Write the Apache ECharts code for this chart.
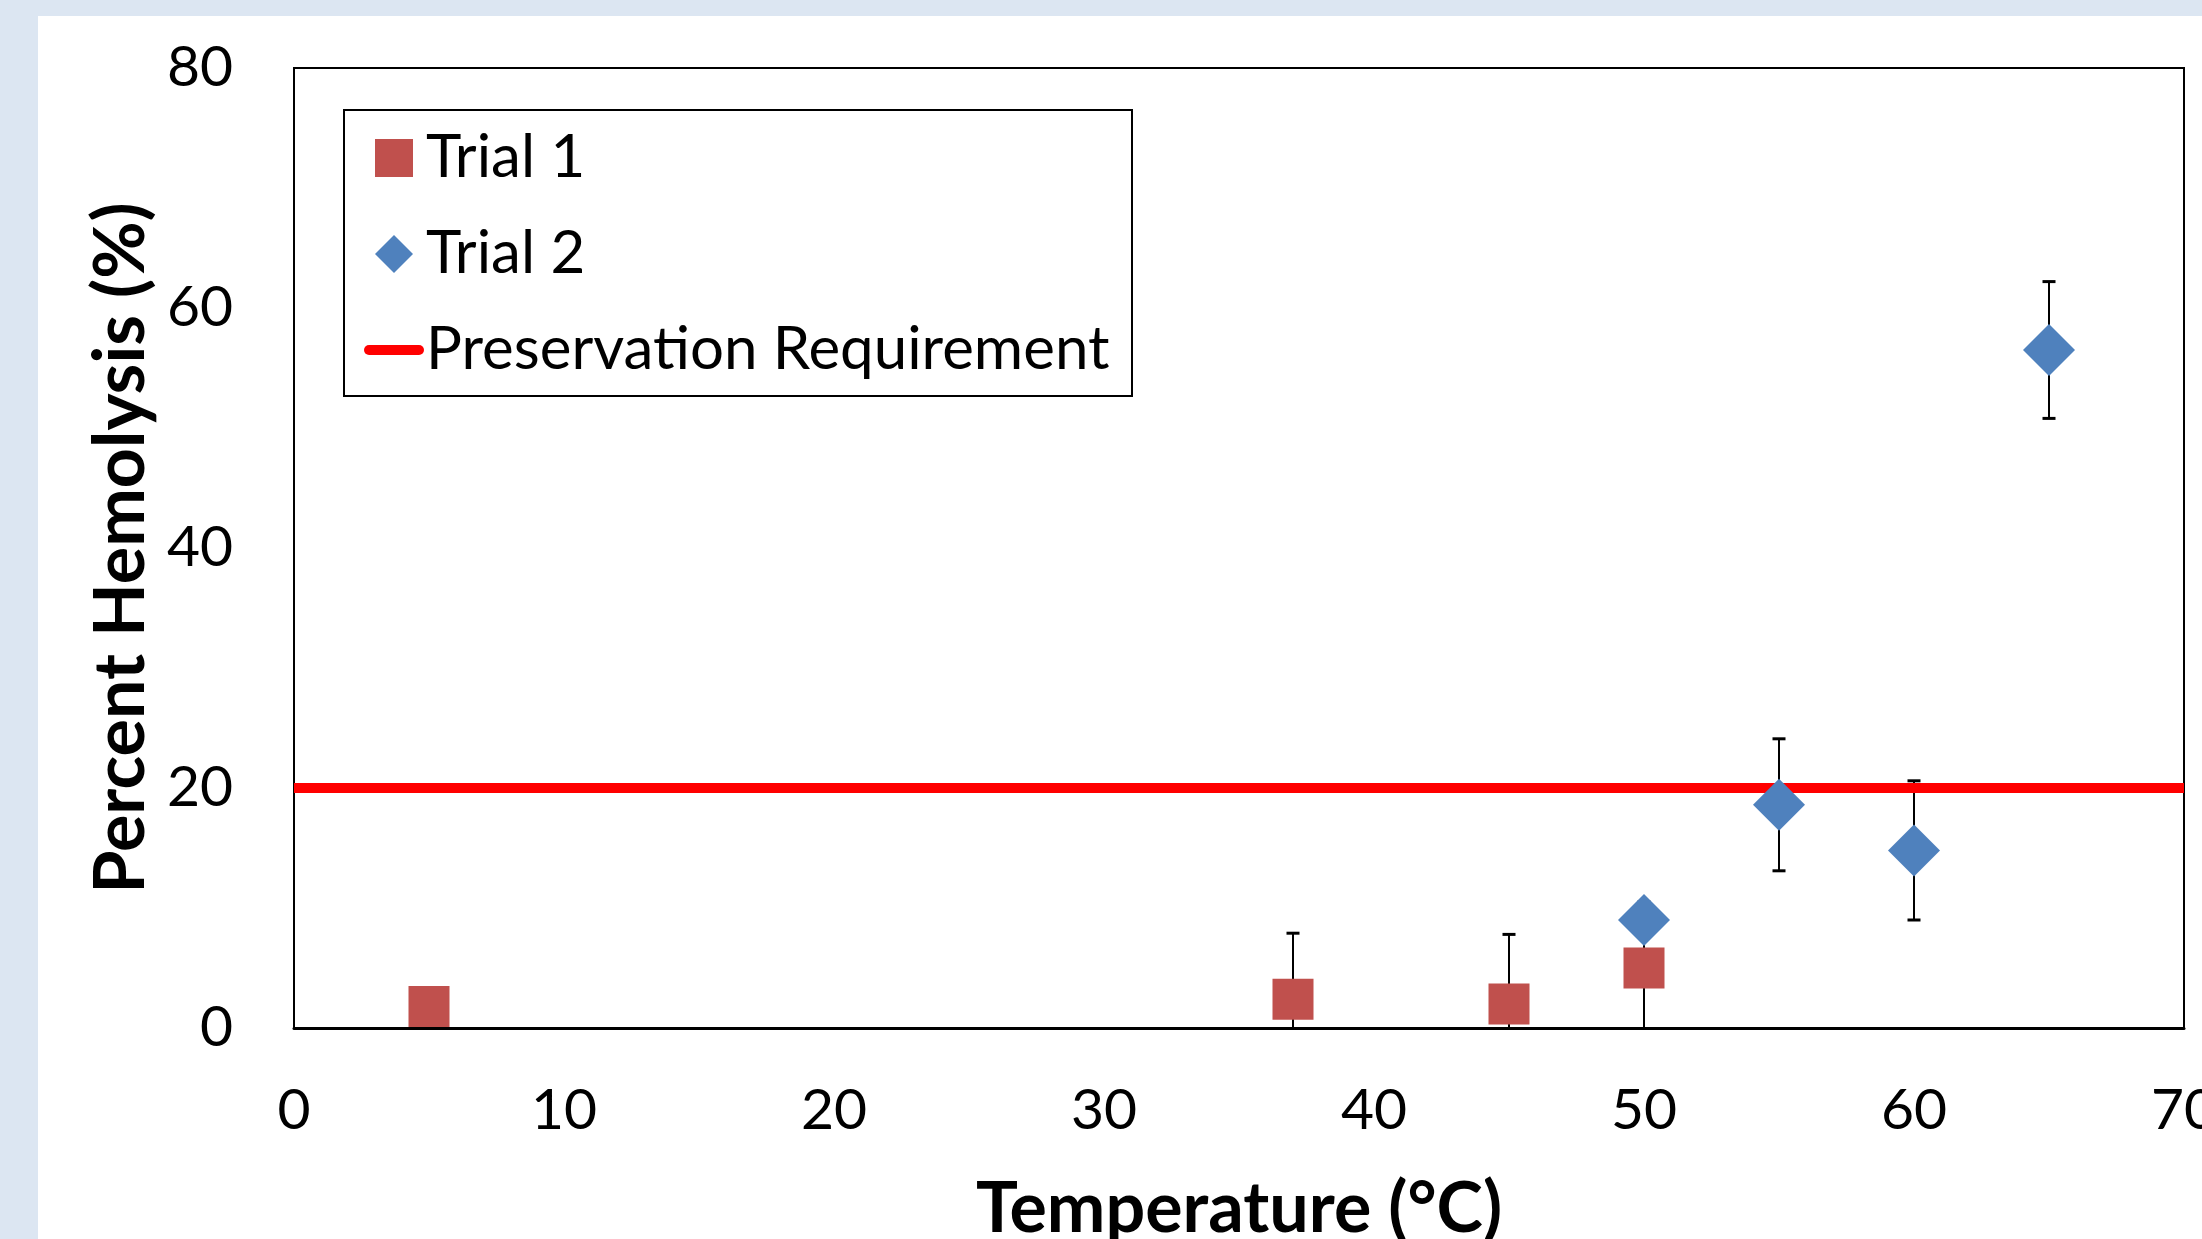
<!DOCTYPE html>
<html>
<head>
<meta charset="utf-8">
<script src="https://cdn.jsdelivr.net/npm/echarts@6/dist/echarts.min.js"></script>
<style>
html,body{margin:0;padding:0;background:#dce6f2;overflow:hidden;}
#chart{position:absolute;left:0;top:0;width:2202px;height:1239px;}
</style>
</head>
<body>
<div id="chart"></div>
<script>
// ---- data ----
const trial1X = [5, 37, 45, 50];
const trial1Y = [1.8, 2.4, 2.0, 5.0];
const trial1Err = [0, 5.5, 5.8, 5.5];

const trial2X = [50, 55, 60, 65];
const trial2Y = [9.0, 18.6, 14.8, 56.5];
const trial2Err = [0, 5.5, 5.8, 5.7];

const requirementX = [0, 70];
const requirementY = [20, 20];

const xTicks = [0, 10, 20, 30, 40, 50, 60, 70];
const yTicks = [0, 20, 40, 60, 80];

const seriesNames = ['Trial 1', 'Trial 2', 'Preservation Requirement'];
const xTitle = 'Temperature (°C)';
const yTitle = 'Percent Hemolysis (%)';

// ---- build ----
const zip = (xs, ys, es) => xs.map((x, i) => es ? [x, ys[i], es[i]] : [x, ys[i]]);

function errRender(params, api) {
  const x = api.value(0), y = api.value(1), e = api.value(2);
  if (!e) return null;
  const top = api.coord([x, y + e]);
  const bot = api.coord([x, y - e]);
  const hw = 6.5;
  return {
    type: 'group',
    children: [
      {type: 'line', shape: {x1: top[0], y1: top[1], x2: bot[0], y2: bot[1]}, style: {stroke: '#000', lineWidth: 2}},
      {type: 'line', shape: {x1: top[0] - hw, y1: top[1], x2: top[0] + hw, y2: top[1]}, style: {stroke: '#000', lineWidth: 3}},
      {type: 'line', shape: {x1: bot[0] - hw, y1: bot[1], x2: bot[0] + hw, y2: bot[1]}, style: {stroke: '#000', lineWidth: 3}}
    ]
  };
}

const regFont = 'Lato, "Liberation Sans", sans-serif';
const boldFont = 'Lato, "Liberation Sans", sans-serif';

const iconSquare = 'path://M0,0H10V10H0Z';
const iconDiamond = 'path://M5,0L10,5L5,10L0,5Z';
const iconLine = 'path://M5,0H55A5,5 0 0 1 55,10H5A5,5 0 0 1 5,0Z';

const chart = echarts.init(document.getElementById('chart'), null, {renderer: 'canvas'});
chart.setOption({
  animation: false,
  backgroundColor: 'transparent',
  graphic: [
    {type: 'rect', z: -10, shape: {x: 38, y: 16, width: 2202 - 38, height: 1239 - 16}, style: {fill: '#ffffff'}},
    {type: 'rect', z: 5, shape: {x: 344, y: 110, width: 788, height: 286}, style: {fill: 'none', stroke: '#000', lineWidth: 2}}
  ],
  grid: {
    left: 294, top: 68, width: 1890, height: 960,
    containLabel: false, outerBoundsMode: 'none',
    show: true, borderColor: '#000', borderWidth: 2, backgroundColor: 'transparent'
  },
  legend: {
    data: [
      {name: seriesNames[0], icon: iconSquare},
      {name: seriesNames[1], icon: iconDiamond},
      {name: seriesNames[2], icon: iconLine}
    ],
    orient: 'vertical',
    left: 364, top: 128,
    padding: 0,
    itemWidth: 60, itemHeight: 38, itemGap: 36,
    symbolKeepAspect: true,
    textStyle: {fontFamily: regFont, fontSize: 60, lineHeight: 58, color: '#000', padding: [0, 0, 0, -3]},
    z: 6
  },
  xAxis: {
    type: 'value',
    min: xTicks[0], max: xTicks[xTicks.length - 1], interval: xTicks[1] - xTicks[0],
    name: xTitle, nameLocation: 'middle', nameGap: 146,
    nameTextStyle: {fontFamily: boldFont, fontWeight: 'bold', fontSize: 70, color: '#000'},
    axisLine: {show: true, onZero: false, lineStyle: {color: '#000', width: 3}},
    axisTick: {show: false},
    splitLine: {show: false},
    axisLabel: {fontFamily: regFont, fontSize: 57, color: '#000', margin: 54}
  },
  yAxis: {
    type: 'value',
    min: yTicks[0], max: yTicks[yTicks.length - 1], interval: yTicks[1] - yTicks[0],
    name: yTitle, nameLocation: 'middle', nameGap: 134, nameRotate: 90,
    nameTextStyle: {fontFamily: boldFont, fontWeight: 'bold', fontSize: 70, color: '#000'},
    axisLine: {show: true, lineStyle: {color: '#000', width: 2}},
    axisTick: {show: false},
    splitLine: {show: false},
    axisLabel: {fontFamily: regFont, fontSize: 57, color: '#000', margin: 61}
  },
  series: [
    {name: 'err1', type: 'custom', renderItem: errRender, data: zip(trial1X, trial1Y, trial1Err), clip: true, z: 1, silent: true},
    {name: 'err2', type: 'custom', renderItem: errRender, data: zip(trial2X, trial2Y, trial2Err), clip: true, z: 1, silent: true},
    {name: seriesNames[2], type: 'line', data: zip(requirementX, requirementY), symbol: 'none', showSymbol: false,
      lineStyle: {color: '#ff0000', width: 10}, itemStyle: {color: '#ff0000'}, z: 2},
    {name: seriesNames[0], type: 'scatter', data: zip(trial1X, trial1Y), symbol: 'rect', symbolSize: 41,
      itemStyle: {color: '#c0504d', opacity: 1}, z: 3},
    {name: seriesNames[1], type: 'scatter', data: zip(trial2X, trial2Y), symbol: 'diamond', symbolSize: 52,
      itemStyle: {color: '#4f81bd', opacity: 1}, z: 3}
  ]
});
</script>
</body>
</html>
